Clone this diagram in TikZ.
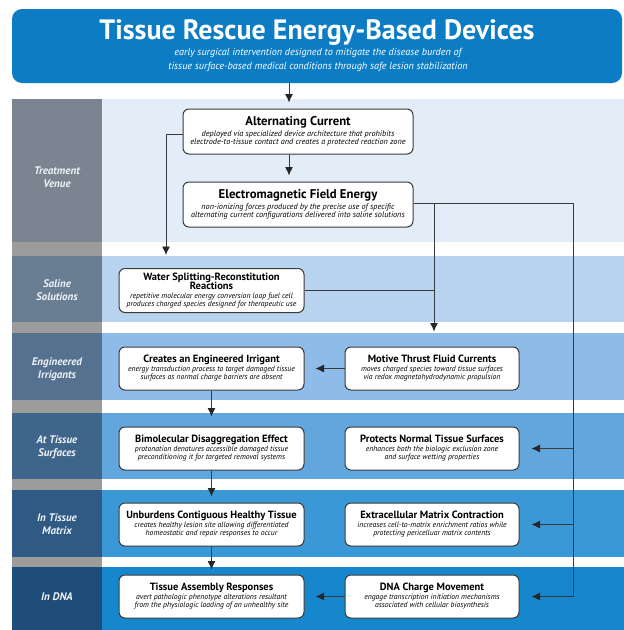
\documentclass[tikz,border=0pt]{standalone}
\usepackage{fontspec}
\setmainfont{PT Sans}
\usepackage{xcolor}
\usepackage{tikz}
\usetikzlibrary{positioning, arrows.meta, calc}
\definecolor{titleblue}{HTML}{0C7CC4}
\definecolor{linegray}{HTML}{3A3A3A}
\definecolor{gapgray}{HTML}{9C9C9C}
\definecolor{lanetext}{HTML}{EEF2F6}
\definecolor{laneA}{HTML}{7B8591}
\definecolor{bandA}{HTML}{E2EDF8}
\definecolor{laneB}{HTML}{6A7E93}
\definecolor{bandB}{HTML}{B7D3EF}
\definecolor{laneC}{HTML}{56718F}
\definecolor{bandC}{HTML}{8EBBE7}
\definecolor{laneD}{HTML}{40658B}
\definecolor{bandD}{HTML}{62A6DE}
\definecolor{laneE}{HTML}{2E5A84}
\definecolor{bandE}{HTML}{3B98D7}
\definecolor{laneF}{HTML}{1F4D79}
\definecolor{bandF}{HTML}{1787CD}
\newcommand{\bighead}{\normalfont\fontsize{12.7}{12}\selectfont\bfseries}
\newcommand{\headfont}{\normalfont\fontsize{10.5}{12}\selectfont\bfseries}
\newcommand{\notefont}{\fontsize{7.7}{8}\selectfont\itshape}
\newcommand{\topnote}{\fontsize{8.2}{8.3}\selectfont\itshape}
\newcommand{\lanefont}{\fontsize{11}{13}\selectfont\bfseries\itshape}
\tikzset{
  banner/.style    = {rectangle, rounded corners=10pt, fill=titleblue,
                      minimum width=610pt, minimum height=74pt},
  lane/.style      = {inner sep=0pt, align=center, text=lanetext, font=\lanefont},
  stage/.style     = {rectangle, rounded corners=6pt, draw=linegray,
                      line width=1pt, fill=white, align=center, inner sep=2pt,
                      font=\notefont},
  widestage/.style = {stage, minimum width=230pt, minimum height=45pt, font=\topnote},
  leftstage/.style = {stage, minimum width=185pt, minimum height=43pt},
  rightstage/.style= {stage, minimum width=174pt, minimum height=43pt},
  arr/.style       = {-{Latex[length=8.5pt,width=8pt,color=black!85]}, line width=0.9pt, draw=linegray},
  link/.style      = {line width=0.9pt, draw=linegray},
}

\begin{document}
\begin{tikzpicture}[x=1pt, y=-1pt]

  \useasboundingbox (0,0) rectangle (624,630);
  \fill[white] (0,0) rectangle (624,630);

  % ----- header -----
  \node[banner] (title) at (317,46) {};
  \node[text=white, font=\fontsize{28}{30}\selectfont\bfseries] (titletext) at (317,33)
       {Tissue Rescue Energy-Based Devices};
  \node[text=white, align=center, font=\fontsize{10.2}{14}\selectfont\itshape] (subtitle) at (318,60)
       {early surgical intervention designed to mitigate the disease burden of\\
        tissue surface-based medical conditions through safe lesion stabilization};

  % ----- lanes -----
  \fill[gapgray] (12,242) rectangle (102,630);
  \fill[bandA] (102,99) rectangle (624,242);
  \fill[bandB] (102,256) rectangle (624,322);
  \fill[bandC] (102,333) rectangle (624,400);
  \fill[bandD] (102,413) rectangle (624,479);
  \fill[bandE] (102,490) rectangle (624,557);
  \fill[bandF] (102,567) rectangle (624,630);
  \fill[laneA] (12,99) rectangle (102,242);
  \fill[laneB] (12,256) rectangle (102,322);
  \fill[laneC] (12,333) rectangle (102,400);
  \fill[laneD] (12,413) rectangle (102,479);
  \fill[laneE] (12,490) rectangle (102,557);
  \fill[laneF] (12,567) rectangle (102,630);

  \node[lane] (venue)    at (57,177)   {Treatment\\Venue};
  \node[lane] (saline)   at (57,290.5) {Saline\\Solutions};
  \node[lane] (irrig)    at (57,369)   {Engineered\\Irrigants};
  \node[lane] (surfaces) at (57,447.5) {At Tissue\\Surfaces};
  \node[lane] (matrix)   at (57,524.5) {In Tissue\\Matrix};
  \node[lane] (dna)      at (57,597)   {In DNA};

  % ----- stages -----
  \node[widestage] (ac) at (298,131.5)
       {\bighead Alternating Current\\[1.5pt]
        deployed via specialized device architecture that prohibits\\
        electrode-to-tissue contact and creates a protected reaction zone};
  \node[widestage, below=27pt of ac] (emf)
       {\bighead Electromagnetic Field Energy\\[1.5pt]
        non-ionizing forces produced by the precise use of specific\\
        alternating current configurations delivered into saline solutions};

  \node[leftstage, minimum height=44pt] (water) at (211.5,290.5)
       {\headfont Water Splitting-Reconstitution\\[-1.5pt]
        \headfont Reactions\\[0.5pt]
        repetitive molecular energy conversion loop fuel cell\\
        produces charged species designed for therapeutic use};

  \node[leftstage] (creates) at (211.5,368.5)
       {\headfont Creates an Engineered Irrigant\\[1pt]
        energy transduction process to target damaged tissue\\
        surfaces as normal charge barriers are absent};
  \node[rightstage, right=40pt of creates] (motive)
       {\headfont Motive Thrust Fluid Currents\\[1pt]
        moves charged species toward tissue surfaces\\
        via redox magnetohydrodynamic propulsion};

  \node[leftstage] (bim) at (211.5,448.5)
       {\headfont Bimolecular Disaggregation Effect\\[1pt]
        protonation denatures accessible damaged tissue\\
        preconditioning it for targeted removal systems};
  \node[rightstage, right=40pt of bim] (protects)
       {\headfont Protects Normal Tissue Surfaces\\[1pt]
        enhances both the biologic exclusion zone\\
        and surface wetting properties};

  \node[leftstage] (unb) at (211.5,524.5)
       {\headfont Unburdens Contiguous Healthy Tissue\\[1pt]
        creates healthy lesion site allowing differentiated\\
        homeostatic and repair responses to occur};
  \node[rightstage, right=40pt of unb] (ecm)
       {\headfont Extracellular Matrix Contraction\\[1pt]
        increases cell-to-matrix enrichment ratios while\\
        protecting pericelluar matrix contents};

  \node[leftstage] (tar) at (211.5,596.5)
       {\headfont Tissue Assembly Responses\\[1pt]
        avert pathologic phenotype alterations resultant\\
        from the physiologic loading of an unhealthy site};
  \node[rightstage, right=40pt of tar] (dnac)
       {\headfont DNA Charge Movement\\[1pt]
        engage transcription initiation mechanisms\\
        associated with cellular biosynthesis};

  % ----- connectors -----
  \coordinate (spine) at (289,0);
  \coordinate (drop)  at (166,0);
  \coordinate (trunk) at (434,0);
  \coordinate (bus)   at (573,0);

  \draw[arr, shorten >=6pt] (title.south -| spine) -- (ac.north -| spine);
  \draw[arr, shorten >=6pt] (ac.south -| spine) -- (emf.north -| spine);
  \draw[arr, shorten >=13pt] ([yshift=-3pt]ac.west) -| (drop |- water.north);

  \draw[arr, shorten >=12pt] ([yshift=1.5pt]emf.east) -| (bus |- dnac.east) -- (dnac.east);
  \draw[arr, shorten >=12pt] (bus |- protects.east) -- (protects.east);
  \draw[arr, shorten >=12pt] (bus |- ecm.east) -- (ecm.east);
  \draw[arr, shorten >=15pt] ([yshift=1.5pt]emf.east -| trunk) -- (trunk |- motive.north);
  \draw[link] (water.east) -- (water.east -| trunk);

  \draw[arr, shorten >=11pt] (motive.west) -- (creates.east);
  \draw[arr, shorten >=10pt] (creates.south) -- (bim.north);
  \draw[arr, shorten >=6pt]  (bim.south) -- (unb.north);
  \draw[arr, shorten >=5pt]  (unb.south) -- (tar.north);
  \draw[arr, shorten >=11pt] (dnac.west) -- (tar.east);

\end{tikzpicture}
\end{document}
